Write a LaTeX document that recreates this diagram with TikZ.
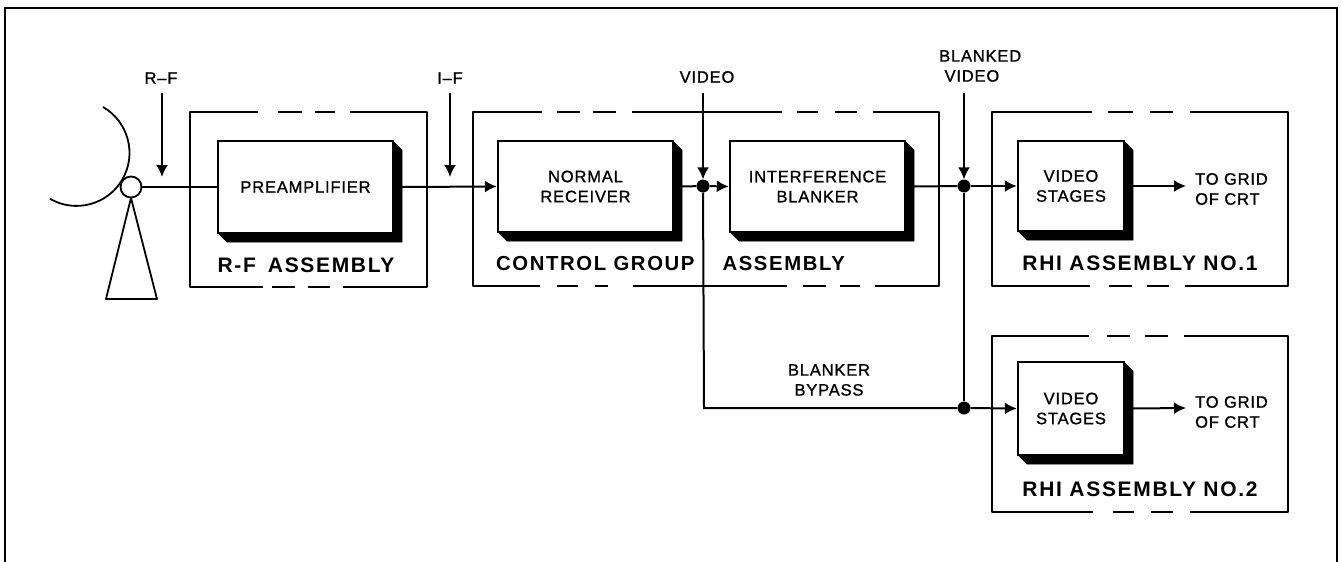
\documentclass[tikz,border=0pt]{standalone}
\usepackage{fontspec}
\setmainfont[LetterSpace=5,FakeBold=1]{Liberation Sans}
\newfontfamily\asmfont[LetterSpace=8]{Liberation Sans}
\usetikzlibrary{arrows.meta}
\tikzset{
  x=1pt,y=-1pt,
  wire/.style={line width=2pt,draw=black},
  sig/.style={wire,-{Latex[length=12pt,width=12pt]}},
  asm/.style={line width=2pt,draw=black,line join=round},
  blockbox/.style={draw=black,fill=white,line width=2.4pt,inner sep=0pt,align=center,font=\fontsize{16.5}{20}\selectfont},
  shadeblk/.style={fill=black,draw=black,line width=.5pt,line join=round},
  lab/.style={inner sep=0pt,align=center,font=\fontsize{16.5}{20}\selectfont},
  asmlab/.style={inner sep=0pt,font=\asmfont\fontsize{21}{22}\selectfont\bfseries},
  dot/.style={circle,fill=black,inner sep=0pt,minimum size=13pt}
}
% name, x1,y1,x2,y2, text
\newcommand{\shblock}[6]{%
  \fill[shadeblk] (#2,#5) -- (#2+9,#5+9) -- (#4+9,#5+9) -- (#4+9,#3+9) -- (#4,#3) -- cycle;
  \node[blockbox,minimum width=#4pt-#2pt,minimum height=#5pt-#3pt] (#1) at ({(#2+#4)/2},{(#3+#5)/2}) {#6};
  \coordinate (#1E) at (#4+9,{(#3+#5)/2});
}
\begin{document}
\begin{tikzpicture}
\useasboundingbox (0,0) rectangle (1341,562);
\fill[white] (0,0) rectangle (1341,562);
% frame
\draw[line width=2.2pt] (5,562) -- (5,8) -- (1337,8) -- (1337,562);
% antenna
\draw[line width=1.8pt] (103,107) arc[start angle=60,end angle=-120,radius=53pt];
\draw[line width=1.8pt,line join=round] (131,198) -- (106,299) -- (157,299) -- cycle;
\node[circle,draw=black,fill=white,line width=1.8pt,minimum size=21pt,inner sep=0pt] (ant) at (131,187) {};
% assembly outlines
\draw[asm] (258,112) -- (190,112) -- (190,287) -- (263,287) (272,287) -- (295,287) (308,287) -- (330,287) (343,287) -- (427,287) -- (427,112) -- (350,112) (278,112) -- (302,112) (315,112) -- (335,112);
\draw[asm] (542,112) -- (473,112) -- (473,286) -- (540,286) (557,286) -- (578,286) (595,286) -- (608,286) (633,286) -- (787,286) (803,286) -- (826,286) (840,286) -- (860,286) (875,286) -- (939,286) -- (939,112) -- (873,112) (557,112) -- (580,112) (593,112) -- (616,112) (632,112) -- (782,112) (797,112) -- (818,112) (835,112) -- (857,112);
\draw[asm] (1092,112) -- (992,112) -- (992,286) -- (1090,286) (1109,286) -- (1132,286) (1147,286) -- (1169,286) (1185,286) -- (1288,286) -- (1288,112) -- (1190,112) (1108,112) -- (1133,112) (1150,112) -- (1173,112);
\draw[asm] (1089,336) -- (992,336) -- (992,512) -- (1093,512) (1113,512) -- (1134,512) (1151,512) -- (1173,512) (1190,512) -- (1288,512) -- (1288,336) -- (1184,336) (1107,336) -- (1130,336) (1145,336) -- (1168,336);
% blocks
\shblock{pre}{218}{141}{393}{233}{PREAMPLIFIER}
\shblock{nrm}{498}{141}{673}{232}{NORMAL\\RECEIVER}
\shblock{ibl}{730}{141}{905}{232}{INTERFERENCE\\BLANKER}
\shblock{vs1}{1018}{141}{1124}{231}{VIDEO\\STAGES}
\shblock{vs2}{1018}{362}{1124}{455}{VIDEO\\STAGES}
% junctions and free ends
\node[dot] (j1) at (703,186) {};
\node[dot] (j2) at (964,186) {};
\node[dot] (j3) at (964,408) {};
\coordinate (by) at (704,408);
\coordinate (o1) at (1186,186);
\coordinate (o2) at (1186,408);
% signal pointers and labels
\node[lab] (lrf) at (161,78) {R–F};
\node[lab] (lif) at (450,78) {I–F};
\node[lab] (lvid) at (707,77) {VIDEO};
\node[lab,align=left,anchor=west] (lbv) at (939,66) {BLANKED\\\ VIDEO};
\coordinate (prf) at (162,177);
\coordinate (pif) at (450,177);
\draw[sig] (162,93) -- (prf);
\draw[sig] (450,93) -- (pif);
\draw[sig] (703,93) -- (j1);
\draw[sig] (964,93) -- (j2);
% connectors
\draw[wire] (ant) -- (pre);
\draw[sig] (preE) -- (nrm.west);
\draw[wire] (nrmE) -- (j1);
\draw[sig] (j1) -- (ibl.west);
\draw[wire] (iblE) -- (j2);
\draw[sig] (j2) -- (vs1.west);
\draw[wire] (j1) -- (by) -- (j3);
\draw[wire] (j2) -- (j3);
\draw[sig] (j3) -- (vs2.west);
\draw[sig] (vs1E) -- (o1);
\draw[sig] (vs2E) -- (o2);
% text
\node[lab,align=left,anchor=west] (tg1) at (1195,189) {TO GRID\\OF CRT};
\node[lab,align=left,anchor=west] (tg2) at (1195,412) {TO GRID\\OF CRT};
\node[lab] (lbb) at (829,380) {BLANKER\\BYPASS};
\node[asmlab] (arf) at (306,265) {R-F\hspace{12pt}ASSEMBLY};
\node[asmlab,anchor=west,font=\asmfont\fontsize{20.3}{22}\selectfont\bfseries] (acg) at (496,264) {CONTROL GROUP\hspace{28pt}ASSEMBLY};
\node[asmlab] (ar1) at (1140,263) {RHI ASSEMBLY NO.1};
\node[asmlab] (ar2) at (1140,489) {RHI ASSEMBLY NO.2};
\end{tikzpicture}
\end{document}
